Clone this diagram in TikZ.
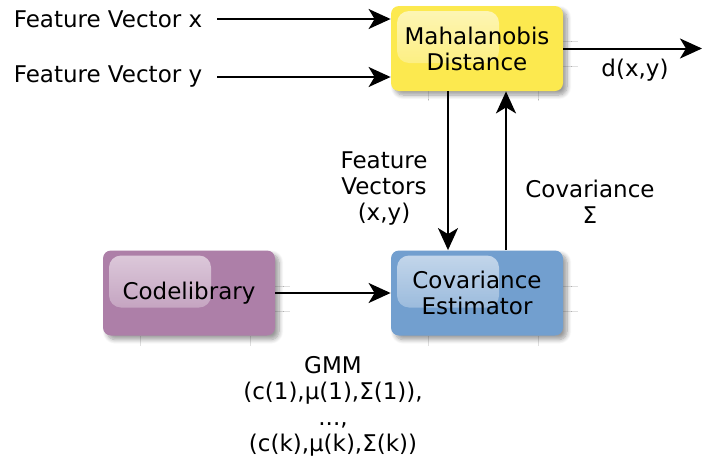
\documentclass[tikz,border=0pt]{standalone}
\usepackage{fontspec}
\setmainfont{DejaVu Sans}
\usetikzlibrary{arrows.meta}
\usetikzlibrary{shadows.blur}
\usetikzlibrary{fadings}

\definecolor{butter}{RGB}{252,233,79}
\definecolor{plum}{RGB}{173,127,168}
\definecolor{skyblue}{RGB}{114,159,207}

\tikzfading[name=glossfade, top color=transparent!40, bottom color=transparent!85]

\tikzset{
    block/.style={rounded corners=4pt, minimum width=86pt, minimum height=42.5pt,
        align=center, inner sep=0pt,
        blur shadow={shadow xshift=2pt, shadow yshift=-2pt, shadow blur steps=8,
            shadow opacity=40},
        path picture={\fill[white, rounded corners=6pt, path fading=glossfade]
            ([shift={(3pt,-2.5pt)}]path picture bounding box.north west)
            rectangle ++(51pt,-26pt);}},
    arr/.style={line width=1pt, -{Stealth[length=11pt,width=10pt,inset=3pt]}},
    tick/.style={gray!25, line width=0.5pt}
}

\begin{document}
\begin{tikzpicture}[x=0.5pt,y=-0.5pt,font=\fontsize{11.5}{13}\selectfont]
    \useasboundingbox (0,0) rectangle (702,461);

    % faint connection ticks behind the blocks
    \foreach \c/\yy in {477/48.5, 189/293, 477/293} {
        \draw[tick] (\c-49,\yy+42.5) -- ++(0,10);
        \draw[tick] (\c+61,\yy+42.5) -- ++(0,10);
        \draw[tick] (\c+86,\yy-7) -- ++(15,0);
        \draw[tick] (\c+86,\yy+18) -- ++(15,0);
    }

    \node[block, fill=butter] (maha) at (477,48.5) {Mahalanobis\\Distance};
    \node[block, fill=plum] (codelib) at (189,293) {Codelibrary};
    \node[block, fill=skyblue] (cove) at (477,293) {Covariance\\Estimator};

    \node (fvx) at (108,19) {Feature Vector x};
    \node (fvy) at (108,77) {Feature Vector y};
    \coordinate (dout) at (702,48.5);

    \draw[arr, shorten <=4pt] (fvx.east) -- (fvx.east -| maha.west);
    \draw[arr, shorten <=4pt] (fvy.east) -- (fvy.east -| maha.west);
    \draw[arr] (maha.east) -- (dout);
    \draw[arr] ([xshift=-14.5pt]maha.south) -- ([xshift=-14.5pt]cove.north);
    \draw[arr] ([xshift=14.5pt]cove.north) -- ([xshift=14.5pt]maha.south);
    \draw[arr] (codelib) -- (cove);

    \node (dlabel) at (635,70) {d(x,y)};
    \node[align=center] (fvlabel) at (384,189) {Feature\\Vectors\\(x,y)};
    \node[align=center] (covlabel) at (590,202) {Covariance\\Σ};
    \node[align=center] (gmmlabel) at (333,406)
        {GMM\\(c(1),μ(1),Σ(1)),\\...,\\(c(k),μ(k),Σ(k))};
\end{tikzpicture}
\end{document}
